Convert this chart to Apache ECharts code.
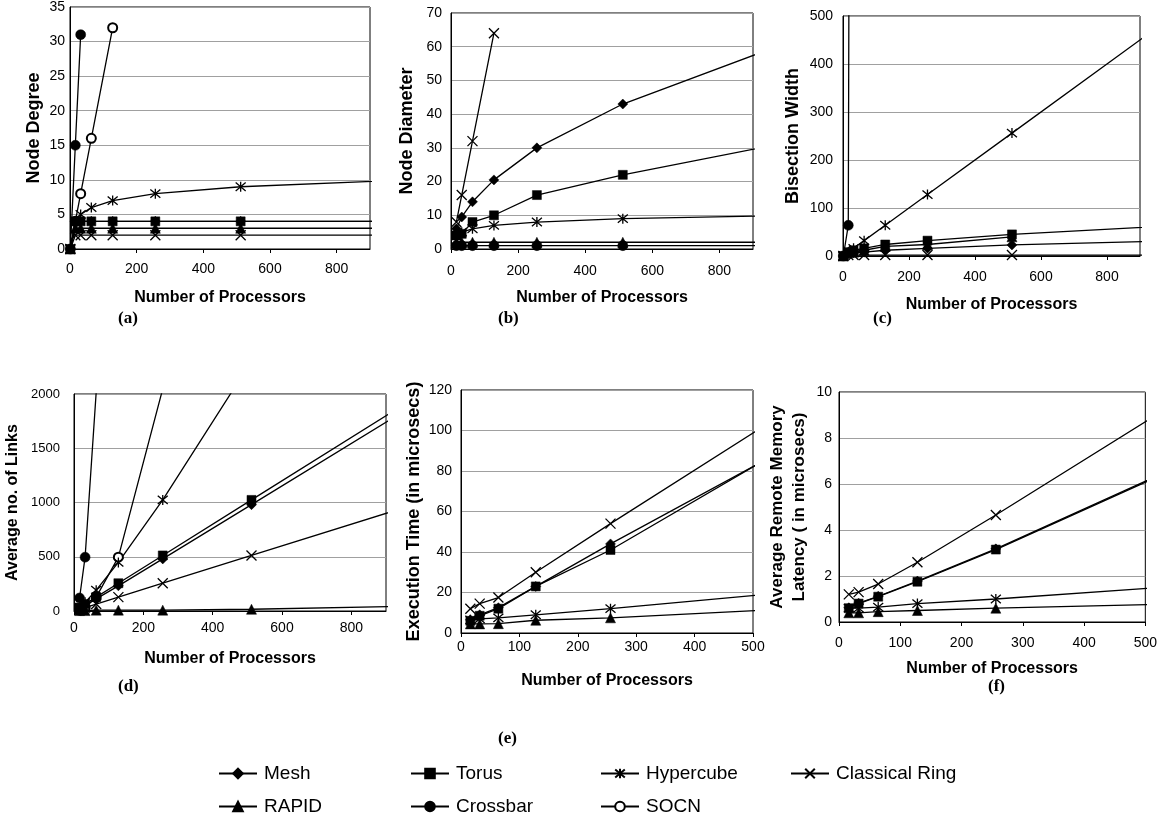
<!DOCTYPE html>
<html>
<head>
<meta charset="utf-8">
<title>Interconnect comparison</title>
<script src="https://cdn.jsdelivr.net/npm/echarts@6/dist/echarts.min.js"></script>
<style>
html,body{margin:0;padding:0;background:#fff;}
#chart{width:1160px;height:822px;}
</style>
</head>
<body>
<div id="chart"></div>
<script>
// processor counts (x values)
var xDeg = [1, 16, 32, 64, 128, 256, 512, 1024];
var xBis = [1, 16, 32, 64, 128, 256, 512, 1024];
var xStd = [16, 32, 64, 128, 256, 512, 1024];
var xSim = [16, 32, 64, 128, 256, 512];

// (a) node degree
var degMesh = [0, 4, 4, 4, 4, 4, 4, 4];
var degTorus = [0, 4, 4, 4, 4, 4, 4, 4];
var degHyper = [0, 4, 5, 6, 7, 8, 9, 10];
var degRing = [0, 2, 2, 2, 2, 2, 2, 2];
var degRapid = [0, 3, 3, 3, 3, 3, 3, 3];
var degCrossbar = [0, 15, 31];
var degSocn = [null, 4, 8, 16, 32];

// (b) node diameter
var diaMesh = [6, 9.5, 14, 20.5, 30, 43, 62];
var diaTorus = [4, 4.5, 8, 10, 16, 22, 32];
var diaHyper = [4, 5, 6, 7, 8, 9, 10];
var diaRing = [8, 16, 32, 64];
var diaRapid = [2, 2, 2, 2, 2, 2, 2];
var diaCrossbar = [1, 1, 1, 1, 1, 1, 1];

// (c) bisection width
var bisMesh = [0, 4, 6, 8, 12, 16, 23, 32];
var bisTorus = [0, 8, 12, 16, 24, 32, 45, 64];
var bisHyper = [0, 8, 16, 32, 64, 128, 256, 512];
var bisRing = [0, 2, 2, 2, 2, 2, 2, 2];
var bisRapid = [0, 8, 8, 12, 20, 24, 40];
var bisCrossbar = [0, 64, 4096];

// (d) average no. of links
var lnkMesh = [24, 52, 112, 232, 480, 980, 1984];
var lnkTorus = [32, 64, 128, 256, 512, 1024, 2048];
var lnkHyper = [32, 80, 192, 448, 1024, 2304];
var lnkRing = [16, 32, 64, 128, 256, 512, 1024];
var lnkRapid = [4, 4, 8, 8, 8, 16, 48];
var lnkCrossbar = [120, 496, 2016];
var lnkSocn = [8, 32, 128, 496, 2048];

// (e) execution time
var exeMesh = [6.5, 9, 12.5, 23, 44, 84];
var exeTorus = [6, 8.5, 12, 23, 41, 84];
var exeHyper = [6.5, 7, 7.5, 9, 12, 18.8];
var exeRing = [12, 14.5, 17.5, 30, 54, 101];
var exeRapid = [4.5, 4.5, 4.6, 6.3, 7.5, 11.2];

// (f) average remote memory latency
var latMesh = [0.62, 0.82, 1.12, 1.78, 3.18, 6.26];
var latTorus = [0.6, 0.8, 1.1, 1.75, 3.15, 6.22];
var latHyper = [0.6, 0.6, 0.65, 0.8, 1.0, 1.48];
var latRing = [1.2, 1.3, 1.65, 2.6, 4.65, 8.9];
var latRapid = [0.4, 0.4, 0.45, 0.5, 0.6, 0.76];

var ARIAL = "'Liberation Sans', Arial, sans-serif";

var marks = {
  'Mesh': {symbol: 'diamond', symbolSize: 10},
  'Torus': {symbol: 'rect', symbolSize: 9},
  'Hypercube': {symbol: 'path://M0,0L10,10M10,0L0,10M5,-1L5,11', symbolSize: 10},
  'Classical Ring': {symbol: 'path://M0,0L10,10M10,0L0,10', symbolSize: 10},
  'RAPID': {symbol: 'triangle', symbolSize: 10},
  'Crossbar': {symbol: 'circle', symbolSize: 10},
  'SOCN': {symbol: 'emptyCircle', symbolSize: 9}
};

var series = [];
function add(name, g, xs, ys) {
  var pts = [];
  for (var i = 0; i < ys.length; i++) {
    if (ys[i] != null) pts.push([xs[i], ys[i]]);
  }
  var stroky = name == 'Hypercube' || name == 'Classical Ring';
  series.push({
    type: 'line', name: name, xAxisIndex: g, yAxisIndex: g, data: pts,
    symbol: marks[name].symbol, symbolSize: marks[name].symbolSize,
    smooth: false, clip: true,
    lineStyle: {color: '#000', width: 1.3},
    itemStyle: {color: '#000', borderColor: '#000', borderWidth: stroky ? 1.3 : (name == 'SOCN' ? 1.2 : 0.5)},
    emphasis: {disabled: true}, silent: true
  });
}

add('Crossbar', 0, xDeg, degCrossbar);
add('SOCN', 0, xDeg, degSocn);
add('Hypercube', 0, xDeg, degHyper);
add('Mesh', 0, xDeg, degMesh);
add('Torus', 0, xDeg, degTorus);
add('RAPID', 0, xDeg, degRapid);
add('Classical Ring', 0, xDeg, degRing);

add('Classical Ring', 1, xStd, diaRing);
add('Mesh', 1, xStd, diaMesh);
add('Torus', 1, xStd, diaTorus);
add('Hypercube', 1, xStd, diaHyper);
add('RAPID', 1, xStd, diaRapid);
add('Crossbar', 1, xStd, diaCrossbar);

add('Crossbar', 2, xBis, bisCrossbar);
add('Hypercube', 2, xBis, bisHyper);
add('Torus', 2, xBis, bisTorus);
add('RAPID', 2, xBis, bisRapid);
add('Mesh', 2, xBis, bisMesh);
add('Classical Ring', 2, xBis, bisRing);

add('Crossbar', 3, xStd, lnkCrossbar);
add('SOCN', 3, xStd, lnkSocn);
add('Hypercube', 3, xStd, lnkHyper);
add('Torus', 3, xStd, lnkTorus);
add('Mesh', 3, xStd, lnkMesh);
add('Classical Ring', 3, xStd, lnkRing);
add('RAPID', 3, xStd, lnkRapid);

add('Classical Ring', 4, xSim, exeRing);
add('Mesh', 4, xSim, exeMesh);
add('Torus', 4, xSim, exeTorus);
add('Hypercube', 4, xSim, exeHyper);
add('RAPID', 4, xSim, exeRapid);

add('Classical Ring', 5, xSim, latRing);
add('Mesh', 5, xSim, latMesh);
add('Torus', 5, xSim, latTorus);
add('Hypercube', 5, xSim, latHyper);
add('RAPID', 5, xSim, latRapid);

var grids = [
  {left: 70, top: 6, width: 300, height: 243},
  {left: 451, top: 13, width: 302, height: 236},
  {left: 843, top: 16, width: 297, height: 240},
  {left: 74, top: 394, width: 312, height: 217},
  {left: 461, top: 390, width: 292, height: 243},
  {left: 839, top: 392, width: 307, height: 230}
];
grids.forEach(function (g) { g.show = true; g.borderColor = '#000'; g.borderWidth = 1; });

// x axes
var xCfg = [
  {max: 900, step: 200, gap: 41, fs: 16, lm: 13},
  {max: 900, step: 200, gap: 41, fs: 16, lm: 15},
  {max: 900, step: 200, gap: 41, fs: 16, lm: 14},
  {max: 900, step: 200, gap: 40, fs: 16, lm: 10},
  {max: 500, step: 100, gap: 40, fs: 16, lm: 7},
  {max: 500, step: 100, gap: 39, fs: 16, lm: 14}
];
var xAxes = xCfg.map(function (c, i) {
  return {
    type: 'value', gridIndex: i, min: 0, max: c.max, interval: c.step,
    name: 'Number of Processors', nameLocation: 'middle', nameGap: c.gap,
    nameTextStyle: {fontFamily: ARIAL, fontWeight: 'bold', fontSize: c.fs, color: '#000'},
    axisLine: {lineStyle: {color: '#000'}},
    axisTick: {show: true, length: 4, lineStyle: {color: '#000'}},
    axisLabel: {fontFamily: ARIAL, fontSize: 14, color: '#000', margin: c.lm, showMaxLabel: c.max == 500},
    splitLine: {show: false}
  };
});

// y axes
var yCfg = [
  {name: 'Node Degree', max: 35, step: 5, gap: 21, fs: 18, lm: 5},
  {name: 'Node Diameter', max: 70, step: 10, gap: 33, fs: 18, lm: 9},
  {name: 'Bisection Width', max: 500, step: 100, gap: 39, fs: 18, lm: 10},
  {name: 'Average no. of Links', max: 2000, step: 500, gap: 50, fs: 16, lm: 14},
  {name: 'Execution Time (in microsecs)', max: 120, step: 20, gap: 31, fs: 18, lm: 9},
  {name: 'Average Remote Memory\nLatency ( in microsecs)', max: 10, step: 2, gap: 29, fs: 17, lm: 7}
];
var yAxes = yCfg.map(function (c, i) {
  return {
    type: 'value', gridIndex: i, min: 0, max: c.max, interval: c.step,
    name: c.name, nameLocation: 'middle', nameGap: c.gap,
    nameTextStyle: {fontFamily: ARIAL, fontWeight: 'bold', fontSize: c.fs, color: '#000', lineHeight: 22},
    axisLine: {lineStyle: {color: '#000'}},
    axisTick: {show: false},
    axisLabel: {fontFamily: ARIAL, fontSize: i == 3 ? 13 : 14, color: '#000', margin: c.lm,
      formatter: function (v) { return String(v); }},
    splitLine: {show: true, lineStyle: {color: '#a0a0a0', width: 1}}
  };
});

// legend slots
var legendNames = ['Mesh', 'Torus', 'Hypercube', 'Classical Ring', 'RAPID', 'Crossbar', 'SOCN'];
var legendLeft = [213, 405, 595, 785, 213, 405, 595];
var legendTop = [759, 759, 759, 759, 792, 792, 792];
var legends = legendNames.map(function (n, i) {
  return {
    data: [n], left: legendLeft[i], top: legendTop[i], itemWidth: 38, itemHeight: 12, itemGap: 0,
    selectedMode: false,
    textStyle: {fontFamily: ARIAL, fontSize: 19, color: '#000', padding: [0, 0, 0, 2]}
  };
});

// panel captions
var caps = ['(a)', '(b)', '(c)', '(d)', '(e)', '(f)'];
var capX = [130, 510, 885, 130, 510, 1000];
var capY = [320, 320, 320, 688, 740, 688];
var graphics = caps.map(function (t, i) {
  return {
    type: 'text', left: capX[i] - 12, top: capY[i] - 10,
    style: {text: t, font: 'bold 17px "Liberation Serif", "Times New Roman", serif', fill: '#000'}
  };
});

var chart = echarts.init(document.getElementById('chart'), null, {renderer: 'canvas'});
chart.setOption({
  animation: false,
  backgroundColor: '#fff',
  grid: grids,
  xAxis: xAxes,
  yAxis: yAxes,
  legend: legends,
  graphic: graphics,
  series: series
});
</script>
</body>
</html>
